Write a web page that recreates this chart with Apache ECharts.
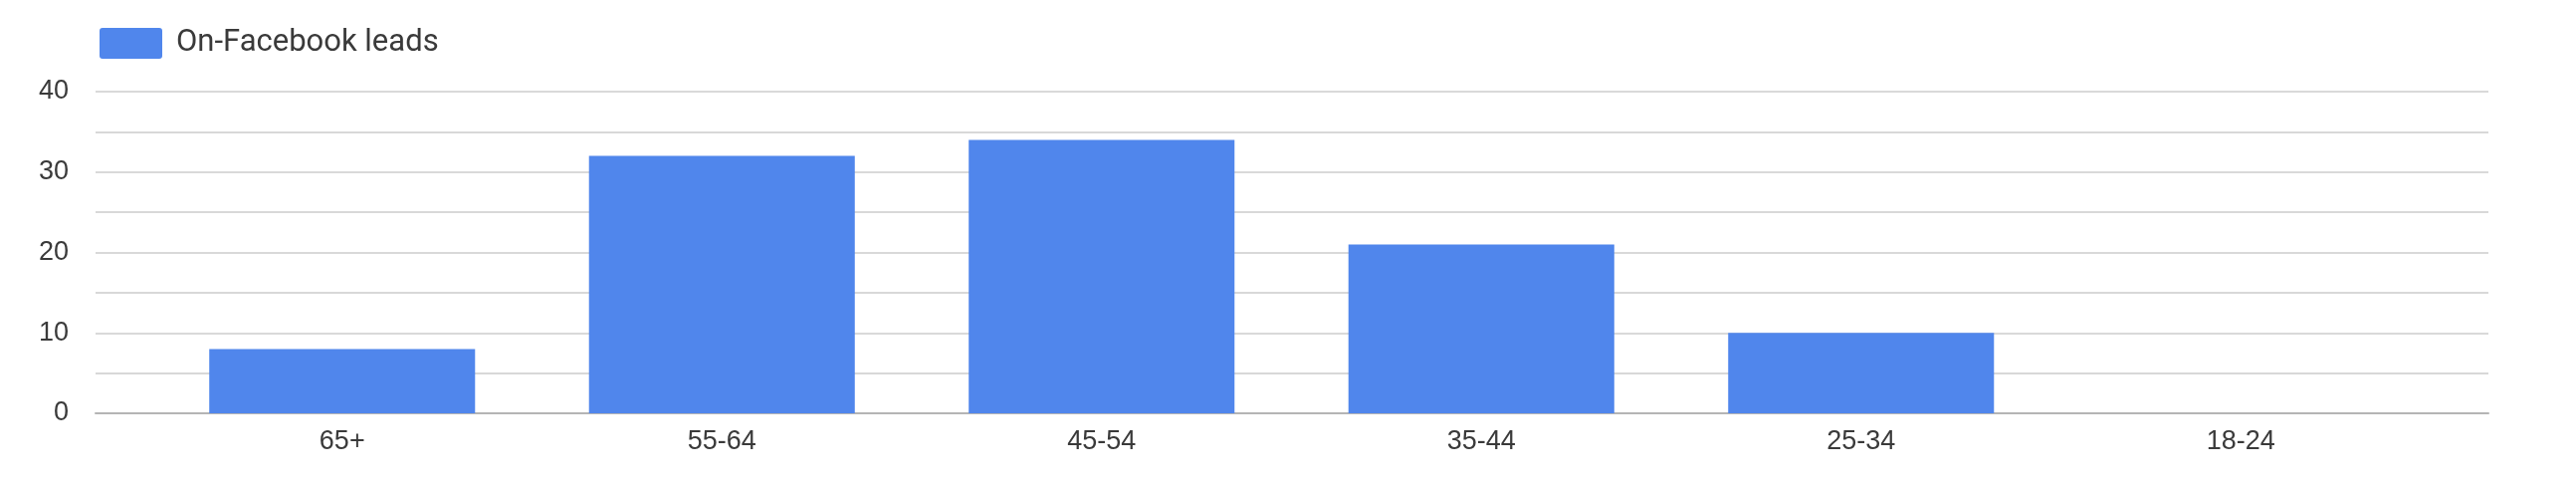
<!DOCTYPE html>
<html>
<head>
<meta charset="utf-8">
<title>On-Facebook leads</title>
<script src="https://cdn.jsdelivr.net/npm/echarts@6/dist/echarts.min.js"></script>
<style>
  html, body { margin: 0; padding: 0; background: #fff; }
  #chart { width: 2588px; height: 488px; }
</style>
</head>
<body>
<div id="chart"></div>
<script>
var categories = ['65+', '55-64', '45-54', '35-44', '25-34', '18-24'];
var leads = [8, 32, 34, 21, 10, 0];
var seriesName = 'On-Facebook leads';

var myChart = echarts.init(document.getElementById('chart'));

var font = 'Arial, sans-serif';
var legendFont = 'Roboto, Arial, sans-serif';

var option = {
  animation: false,
  textStyle: { fontFamily: legendFont },
  legend: {
    left: 95,
    top: 23,
    itemWidth: 63,
    itemHeight: 31,
    icon: 'path://M3,0 H60 A3,3 0 0 1 63,3 V28 A3,3 0 0 1 60,31 H3 A3,3 0 0 1 0,28 V3 A3,3 0 0 1 3,0 Z',
    textStyle: { fontSize: 31, color: '#3a3a3a', fontFamily: legendFont, padding: [0, 0, 0, 9] },
    data: [seriesName]
  },
  // grid 0 holds the full-width gridlines, grid 1 holds the padded bars
  grid: [
    { left: 96, right: 88, top: 92, bottom: 73 },
    { left: 153, right: 146, top: 92, bottom: 73 }
  ],
  xAxis: [
    {
      type: 'category',
      gridIndex: 0,
      data: categories,
      axisLine: { show: true, lineStyle: { color: '#b5b5b5', width: 2 } },
      axisTick: { show: false },
      axisLabel: { show: false }
    },
    {
      type: 'category',
      gridIndex: 1,
      data: categories,
      axisLine: { show: false },
      axisTick: { show: false },
      axisLabel: { fontSize: 27, color: '#3a3a3a', margin: 15, fontFamily: font }
    }
  ],
  yAxis: [
    {
      type: 'value',
      gridIndex: 0,
      min: 0,
      max: 40,
      interval: 10,
      axisLine: { show: false },
      axisTick: { show: false },
      axisLabel: { fontSize: 27, color: '#3a3a3a', margin: 27, fontFamily: font },
      splitLine: { lineStyle: { color: '#cccccc', width: 1.5 } },
      minorTick: { show: false, splitNumber: 2 },
      minorSplitLine: { show: true, lineStyle: { color: '#cccccc', width: 1.5 } }
    },
    {
      type: 'value',
      gridIndex: 1,
      min: 0,
      max: 40,
      interval: 10,
      show: false,
      splitLine: { show: false }
    }
  ],
  series: [{
    name: seriesName,
    type: 'bar',
    xAxisIndex: 1,
    yAxisIndex: 1,
    data: leads,
    barCategoryGap: '30%',
    itemStyle: { color: '#5086ec' }
  }]
};

myChart.setOption(option);
window.addEventListener('resize', function () {
  myChart.resize();
});
</script>
</body>
</html>
